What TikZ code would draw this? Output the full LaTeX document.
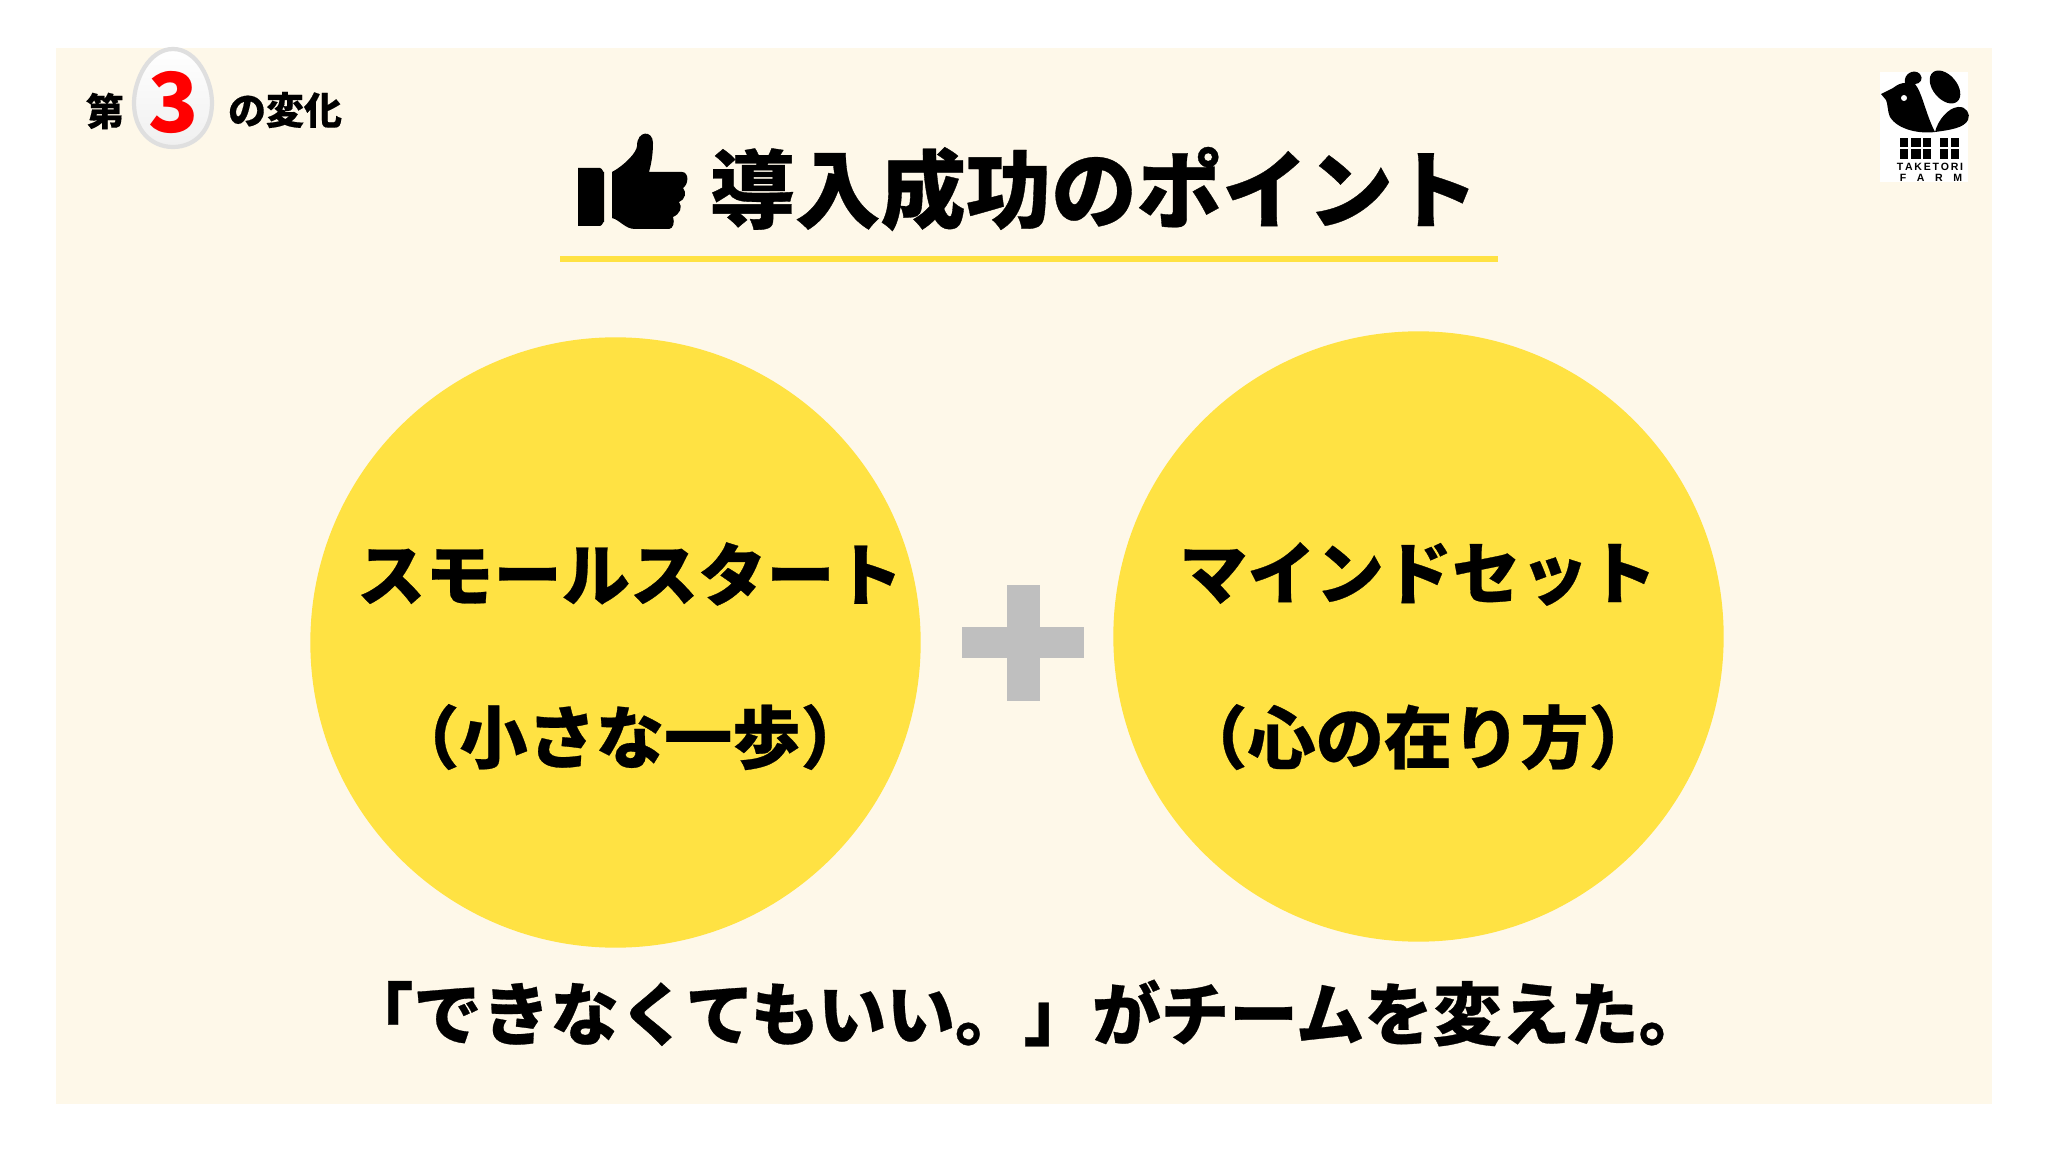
\documentclass[tikz,border=0pt]{standalone}
\usepackage{fontspec}
\setmainfont{Noto Sans CJK JP Black}[FakeBold=0.4]
\newfontfamily\plainblack{Noto Sans CJK JP Black}
\newfontfamily\latinbold{Liberation Sans}[BoldFont=Liberation Sans Bold]
\usetikzlibrary{positioning}
\definecolor{panelcol}{HTML}{FEF8E9}
\definecolor{discyellow}{HTML}{FFE243}
\definecolor{plusgray}{HTML}{BFBFBF}
\tikzset{
    disc/.style={circle, fill=discyellow, minimum size=6.1cm, inner sep=0pt},
    big/.style={inner sep=0pt, font=\fontsize{19.4pt}{22pt}\selectfont},
    small/.style={inner sep=0pt, font=\fontsize{10.8pt}{13pt}\selectfont},
}

\begin{document}
\begin{tikzpicture}[x=0.01cm, y=-0.01cm]
    \useasboundingbox (0,0) rectangle (2048,1152);
    \fill[white] (0,0) rectangle (2048,1152);
    \fill[panelcol] (56,48) rectangle (1992,1104);
    % egg
    \draw[top color=white, bottom color=black!6, draw=gray!25, line width=1.2pt] (173,49) .. controls (197,49) and (212,80) .. (212,103) .. controls (212,130) and (195,147) .. (173,147) .. controls (151,147) and (134,130) .. (134,103) .. controls (134,80) and (149,49) .. (173,49);
    \node[inner sep=0pt, text=red, font=\plainblack\fontsize{23.5pt}{26pt}\selectfont] (three) at (174,103) {3};
    \node[small] (dai) at (105,111) {第};
    \node[small] (henka) at (285,110) {の変化};
    % title
    \fill (578,168) -- (600,168) to[out=0,in=-90] (604,172) -- (604,222) to[out=90,in=0] (600,226) -- (578,226) -- cycle;
    \fill (612,172) .. controls (625,165) and (637,152) .. (637,146) .. controls (637,130) and (653,130) .. (653,143) .. controls (653,155) and (651,165) .. (649,172) -- (682,172) .. controls (689,172) and (689,184) .. (683,188) .. controls (687,192) and (685,200) .. (679,202) .. controls (683,207) and (680,214) .. (673,217) .. controls (675,222) and (673,229) .. (669,229) -- (635,229) .. controls (625,229) and (620,220) .. (612,218) -- cycle;
    \node[inner sep=0pt, font=\fontsize{24.3pt}{28pt}\selectfont] (title) at (1094,189) {導入成功のポイント};
    \fill[discyellow] (560,256.5) rectangle (1498,262);
    % discs
    \node[disc] (small) at (615.5,642.5) {};
    \node[disc] (mind) at (1418.5,636.5) {};
    \node[big] (smalla) at (630,574) {スモールスタート};
    \node[big, below=0.97cm of smalla] (smallb) {（小さな一歩）};
    \node[big] (minda) at (1418,574) {マインドセット};
    \node[big, below=0.97cm of minda] (mindb) {（心の在り方）};
    \fill[plusgray] (1007,585) rectangle (1040,701);
    \fill[plusgray] (962,627) rectangle (1084,658);
    \node[inner sep=0pt, font=\fontsize{19.5pt}{22pt}\selectfont] (bottom) at (1026,1013) {「できなくてもいい。」がチームを変えた。};
    % logo
    \fill[white] (1880,72) rectangle (1968,182);
    \fill (1881,94) -- (1893,88) .. controls (1898,84) and (1902,83) .. (1905,83) .. controls (1903,74) and (1914,68) .. (1920,74) .. controls (1924,79) and (1920,84) .. (1915,84) .. controls (1922,92) and (1926,115) .. (1935,132) .. controls (1920,134) and (1898,130) .. (1890,117) .. controls (1887,110) and (1888,104) .. (1886,100) -- cycle;
    \fill[white] (1904,98) circle (3);
    \fill[rotate around={-50:(1945,87)}] (1945,87) ellipse (19 and 12);
    \fill (1935,132) .. controls (1938,120) and (1948,108) .. (1958,107) .. controls (1966,106) and (1971,114) .. (1968,120) .. controls (1964,128) and (1950,130) .. (1935,132) -- cycle;
    \foreach \px/\pw in {1900/8, 1911/10, 1923/8, 1940/8, 1951/8}{
        \fill (\px,138) rectangle ++(\pw,9.5);
        \fill (\px,149) rectangle ++(\pw,10);
    }
    \node[inner sep=0pt, font=\latinbold\bfseries\fontsize{3pt}{3pt}\selectfont] (taketori) at (1930,167) {T\,A\,K\,E\,T\,O\,R\,I};
    \node[inner sep=0pt, font=\latinbold\bfseries\fontsize{3pt}{3pt}\selectfont] (farm) at (1931,178) {F\quad A\quad R\quad M};
\end{tikzpicture}
\end{document}
